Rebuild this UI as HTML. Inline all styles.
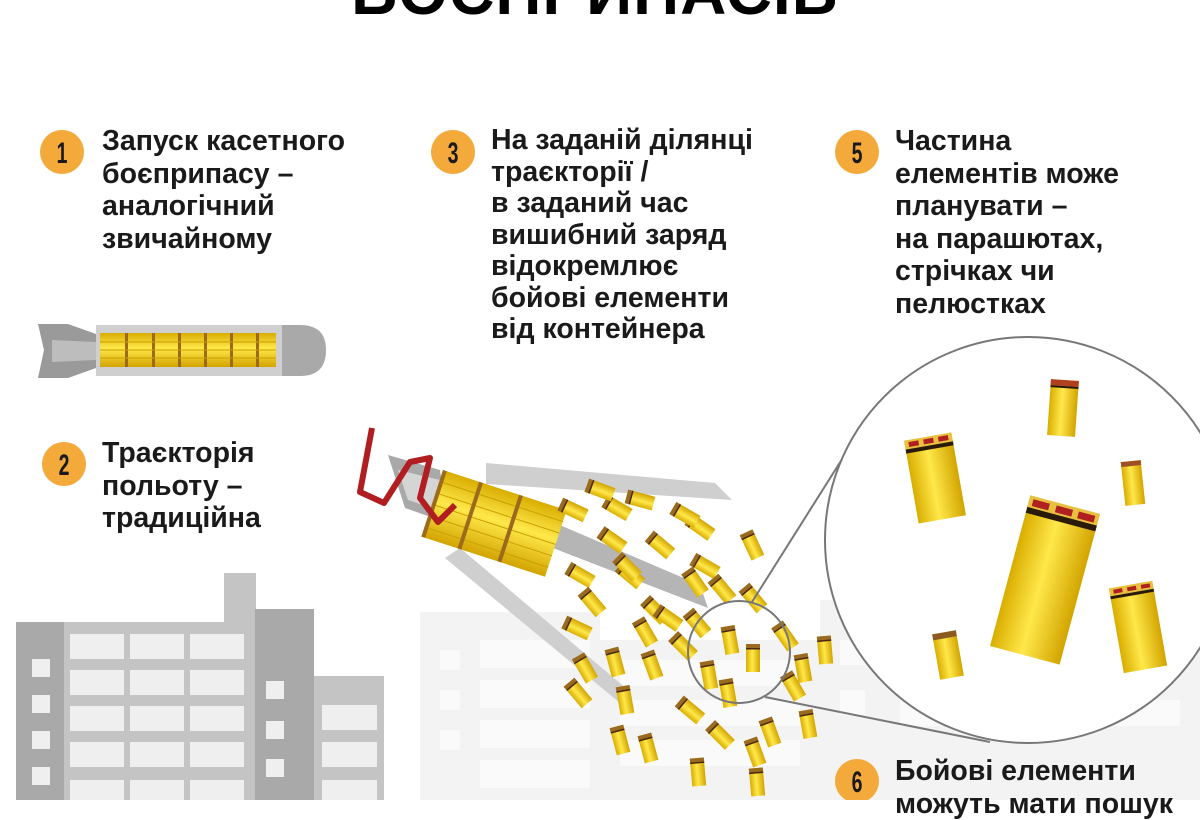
<!DOCTYPE html>
<html><head><meta charset="utf-8"><style>
html,body{margin:0;padding:0;background:#fff;}
body{width:1200px;height:800px;overflow:hidden;position:relative;font-family:"Liberation Sans","DejaVu Sans",sans-serif;}
svg{position:absolute;left:0;top:0;}
.t{position:absolute;font-weight:bold;font-size:28.5px;line-height:32.5px;color:#1a1a1a;white-space:nowrap;}
.title{position:absolute;left:350px;top:-40px;width:490px;text-align:center;font-weight:bold;font-size:64px;line-height:64px;color:#000;letter-spacing:1px;}
</style></head><body>
<svg width="1200" height="800" viewBox="0 0 1200 800">
<defs>
<linearGradient id="yg" x1="0" x2="1" y1="0" y2="0">
<stop offset="0" stop-color="#d9ad00"/><stop offset="0.45" stop-color="#ffe84a"/><stop offset="1" stop-color="#d2a400"/></linearGradient>
<linearGradient id="yh" x1="0" x2="0" y1="0" y2="1">
<stop offset="0" stop-color="#d9ad00"/><stop offset="0.45" stop-color="#ffe84a"/><stop offset="1" stop-color="#d2a400"/></linearGradient>
<g id="cy"><rect x="-7" y="-14" width="14" height="28" fill="url(#yg)"/><rect x="-7" y="-14" width="14" height="5" fill="#9a6a20"/><rect x="-7" y="-10" width="14" height="1.5" fill="#4a2a10"/></g>
</defs>
<g fill="#f3f3f3">
<rect x="420" y="612" width="180" height="188"/><rect x="600" y="640" width="220" height="160"/><rect x="820" y="600" width="380" height="200"/>
</g>
<g fill="#fafafa">
<rect x="440" y="650" width="20" height="20"/><rect x="440" y="690" width="20" height="20"/><rect x="440" y="730" width="20" height="20"/>
<rect x="480" y="640" width="110" height="28"/><rect x="480" y="680" width="110" height="28"/><rect x="480" y="720" width="110" height="28"/><rect x="480" y="760" width="110" height="28"/>
<rect x="620" y="660" width="180" height="26"/><rect x="620" y="700" width="180" height="26"/><rect x="620" y="740" width="180" height="26"/>
<rect x="840" y="640" width="25" height="25"/><rect x="840" y="690" width="25" height="25"/>
<rect x="900" y="700" width="280" height="26"/>
</g>
<rect x="224" y="573" width="32" height="52" fill="#c4c4c4"/>
<rect x="64" y="622" width="192" height="178" fill="#c4c4c4"/>
<rect x="16" y="622" width="48" height="178" fill="#a9a9a9"/>
<rect x="255" y="609" width="59" height="191" fill="#a9a9a9"/>
<rect x="314" y="676" width="70" height="124" fill="#c4c4c4"/>
<g fill="#efefef">
<rect x="70" y="634" width="54" height="25"/><rect x="130" y="634" width="54" height="25"/><rect x="190" y="634" width="54" height="25"/>
<rect x="70" y="670" width="54" height="25"/><rect x="130" y="670" width="54" height="25"/><rect x="190" y="670" width="54" height="25"/>
<rect x="70" y="706" width="54" height="25"/><rect x="130" y="706" width="54" height="25"/><rect x="190" y="706" width="54" height="25"/>
<rect x="70" y="742" width="54" height="25"/><rect x="130" y="742" width="54" height="25"/><rect x="190" y="742" width="54" height="25"/>
<rect x="70" y="780" width="54" height="25"/><rect x="130" y="780" width="54" height="25"/><rect x="190" y="780" width="54" height="25"/>
<rect x="32" y="659" width="18" height="18"/><rect x="32" y="695" width="18" height="18"/><rect x="32" y="731" width="18" height="18"/><rect x="32" y="767" width="18" height="18"/>
<rect x="266" y="681" width="18" height="18"/><rect x="266" y="721" width="18" height="18"/><rect x="266" y="759" width="18" height="18"/>
<rect x="322" y="705" width="55" height="25"/><rect x="322" y="742" width="55" height="25"/><rect x="322" y="780" width="55" height="25"/>
</g>
<path d="M280,325 L300,325 Q326,325 326,350 Q326,376 300,376 L280,376 Z" fill="#a9a9a9"/>
<rect x="96" y="325" width="186" height="51" fill="#cfcfcf"/>
<path d="M38,324 L68,324 L96,334 L96,368 L68,378 L38,378 L44,350 Z" fill="#9a9a9a"/>
<path d="M52,340 L96,342 L96,360 L52,362 Z" fill="#bdbdbd"/>
<rect x="100" y="333" width="176" height="34" fill="url(#yh)"/>
<g fill="#9b6a1c"><rect x="125" y="333" width="3" height="34"/><rect x="152" y="333" width="3" height="34"/><rect x="178" y="333" width="3" height="34"/><rect x="204" y="333" width="3" height="34"/><rect x="230" y="333" width="3" height="34"/><rect x="256" y="333" width="3" height="34"/></g>
<g stroke="#c9a000" stroke-width="1"><line x1="100" y1="342" x2="276" y2="342"/><line x1="100" y1="350" x2="276" y2="350"/><line x1="100" y1="358" x2="276" y2="358"/></g>
<path d="M486,463 L715,483 L732,500 L486,484 Z" fill="#cfcfcf"/>
<path d="M445,558 L460,548 L628,690 L620,703 Z" fill="#cfcfcf"/>
<path d="M548,520 L700,585 L708,608 L545,545 Z" fill="#b5b5b5"/>
<path d="M388,455 L440,470 L448,523 L405,508 Z" fill="#a9a9a9"/>
<path d="M398,470 L440,480 L444,512 L408,500 Z" fill="#d5d5d5"/>
<g transform="translate(443,470) rotate(18)">
<rect x="0" y="0" width="130" height="70" fill="url(#yh)"/>
<g stroke="#c9a000"><line x1="0" y1="12" x2="130" y2="12"/><line x1="0" y1="24" x2="130" y2="24"/><line x1="0" y1="36" x2="130" y2="36"/><line x1="0" y1="48" x2="130" y2="48"/><line x1="0" y1="60" x2="130" y2="60"/></g>
<rect x="0" y="0" width="4" height="70" fill="#9b6a1c"/><rect x="38" y="0" width="4" height="70" fill="#9b6a1c"/><rect x="80" y="0" width="4" height="70" fill="#9b6a1c"/>
</g>
<path d="M372,428 L360,492 L384,503 L410,462 L430,458 L420,498 L438,522 L455,505" fill="none" stroke="#b01e22" stroke-width="6" stroke-linejoin="round"/>
<g>
<use href="#cy" transform="translate(573,510) rotate(-65)"/><use href="#cy" transform="translate(617,508) rotate(-60)"/><use href="#cy" transform="translate(612,540) rotate(-55)"/><use href="#cy" transform="translate(660,545) rotate(-50)"/><use href="#cy" transform="translate(700,527) rotate(-55)"/><use href="#cy" transform="translate(705,566) rotate(-60)"/><use href="#cy" transform="translate(630,575) rotate(-50)"/><use href="#cy" transform="translate(580,575) rotate(-60)"/><use href="#cy" transform="translate(592,602) rotate(-40)"/><use href="#cy" transform="translate(577,628) rotate(-65)"/><use href="#cy" transform="translate(585,668) rotate(-30)"/><use href="#cy" transform="translate(627,567) rotate(-45)"/><use href="#cy" transform="translate(655,610) rotate(-45)"/><use href="#cy" transform="translate(645,632) rotate(-30)"/><use href="#cy" transform="translate(668,618) rotate(-55)"/><use href="#cy" transform="translate(695,582) rotate(-35)"/><use href="#cy" transform="translate(697,623) rotate(-40)"/><use href="#cy" transform="translate(652,665) rotate(-20)"/><use href="#cy" transform="translate(615,662) rotate(-15)"/><use href="#cy" transform="translate(625,700) rotate(-10)"/><use href="#cy" transform="translate(578,693) rotate(-40)"/><use href="#cy" transform="translate(683,646) rotate(-45)"/><use href="#cy" transform="translate(709,675) rotate(-10)"/><use href="#cy" transform="translate(690,710) rotate(-50)"/><use href="#cy" transform="translate(752,545) rotate(-25)"/><use href="#cy" transform="translate(753,598) rotate(-40)"/><use href="#cy" transform="translate(722,589) rotate(-40)"/><use href="#cy" transform="translate(730,640) rotate(-10)"/><use href="#cy" transform="translate(753,658) rotate(0)"/><use href="#cy" transform="translate(728,693) rotate(-10)"/><use href="#cy" transform="translate(785,636) rotate(-35)"/><use href="#cy" transform="translate(793,686) rotate(-30)"/><use href="#cy" transform="translate(803,668) rotate(-10)"/><use href="#cy" transform="translate(770,732) rotate(-20)"/><use href="#cy" transform="translate(755,752) rotate(-20)"/><use href="#cy" transform="translate(720,735) rotate(-45)"/><use href="#cy" transform="translate(648,748) rotate(-15)"/><use href="#cy" transform="translate(698,772) rotate(-5)"/><use href="#cy" transform="translate(757,782) rotate(-5)"/><use href="#cy" transform="translate(825,650) rotate(-5)"/><use href="#cy" transform="translate(808,724) rotate(-10)"/><use href="#cy" transform="translate(600,490) rotate(-70)"/><use href="#cy" transform="translate(640,500) rotate(-75)"/><use href="#cy" transform="translate(685,515) rotate(-60)"/><use href="#cy" transform="translate(620,740) rotate(-15)"/>
</g>
<circle cx="739" cy="652" r="51" fill="none" stroke="#777" stroke-width="2"/>
<line x1="752" y1="602" x2="868" y2="418" stroke="#777" stroke-width="2"/>
<line x1="765" y1="697" x2="990" y2="742" stroke="#777" stroke-width="2"/>
<circle cx="1028" cy="540" r="203" fill="#fff" stroke="#777" stroke-width="2"/>
<g transform="translate(935,478) rotate(-10)"><rect x="-24" y="-42" width="48" height="84" fill="url(#yg)"/><rect x="-24" y="-42" width="48" height="9" fill="#e8c040"/><rect x="-20" y="-40" width="10" height="5" fill="#b02020"/><rect x="-5" y="-40" width="10" height="5" fill="#b02020"/><rect x="10" y="-40" width="10" height="5" fill="#b02020"/><rect x="-24" y="-33" width="48" height="4" fill="#2a1a0a"/></g>
<g transform="translate(1063,408) rotate(4)"><rect x="-14" y="-28" width="28" height="56" fill="url(#yg)"/><rect x="-14" y="-28" width="28" height="6" fill="#b04020"/><rect x="-14" y="-22" width="28" height="2" fill="#2a1a0a"/></g>
<g transform="translate(1133,483) rotate(-6)"><rect x="-10" y="-22" width="20" height="44" fill="url(#yg)"/><rect x="-10" y="-22" width="20" height="5" fill="#a05020"/></g>
<g transform="translate(1045,580) rotate(15)"><rect x="-36" y="-78" width="72" height="156" fill="url(#yg)"/><rect x="-36" y="-78" width="72" height="12" fill="#e8c040"/><rect x="-32" y="-75" width="17" height="7" fill="#b02020"/><rect x="-8" y="-75" width="17" height="7" fill="#b02020"/><rect x="15" y="-75" width="17" height="7" fill="#b02020"/><rect x="-36" y="-66" width="72" height="6" fill="#2a1a0a"/></g>
<g transform="translate(1138,627) rotate(-10)"><rect x="-22" y="-43" width="44" height="86" fill="url(#yg)"/><rect x="-22" y="-43" width="44" height="8" fill="#e8c040"/><rect x="-18" y="-41" width="9" height="4" fill="#b02020"/><rect x="-4" y="-41" width="9" height="4" fill="#b02020"/><rect x="10" y="-41" width="9" height="4" fill="#b02020"/><rect x="-22" y="-35" width="44" height="3" fill="#2a1a0a"/></g>
<g transform="translate(948,655) rotate(-10)"><rect x="-12" y="-23" width="24" height="46" fill="url(#yg)"/><rect x="-12" y="-23" width="24" height="6" fill="#8a5a20"/></g>
<g fill="#f4a93b">
<circle cx="62" cy="152" r="22"/><circle cx="453" cy="152" r="22"/><circle cx="857" cy="152" r="22"/><circle cx="64" cy="464" r="22"/><circle cx="857" cy="781" r="22"/>
</g>
<g font-family="Liberation Sans, sans-serif" font-weight="bold" font-size="30" fill="#1a1a1a" text-anchor="middle">
<text transform="translate(62,163) scale(0.65,1)">1</text>
<text transform="translate(453,163) scale(0.65,1)">3</text>
<text transform="translate(857,163) scale(0.65,1)">5</text>
<text transform="translate(64,475) scale(0.65,1)">2</text>
<text transform="translate(857,792) scale(0.65,1)">6</text>
</g>
</svg>
<div class="title">БОЄПРИПАСІВ</div>
<div class="t" style="left:102px;top:125px;">Запуск касетного<br>боєприпасу –<br>аналогічний<br>звичайному</div>
<div class="t" style="left:491px;top:125px;line-height:31.5px;">На заданій ділянці<br>траєкторії /<br>в заданий час<br>вишибний заряд<br>відокремлює<br>бойові елементи<br>від контейнера</div>
<div class="t" style="left:895px;top:125px;">Частина<br>елементів може<br>планувати –<br>на парашютах,<br>стрічках чи<br>пелюстках</div>
<div class="t" style="left:102px;top:437px;">Траєкторія<br>польоту –<br>традиційна</div>
<div class="t" style="left:895px;top:755px;">Бойові елементи<br>можуть мати пошук</div>
</body></html>
